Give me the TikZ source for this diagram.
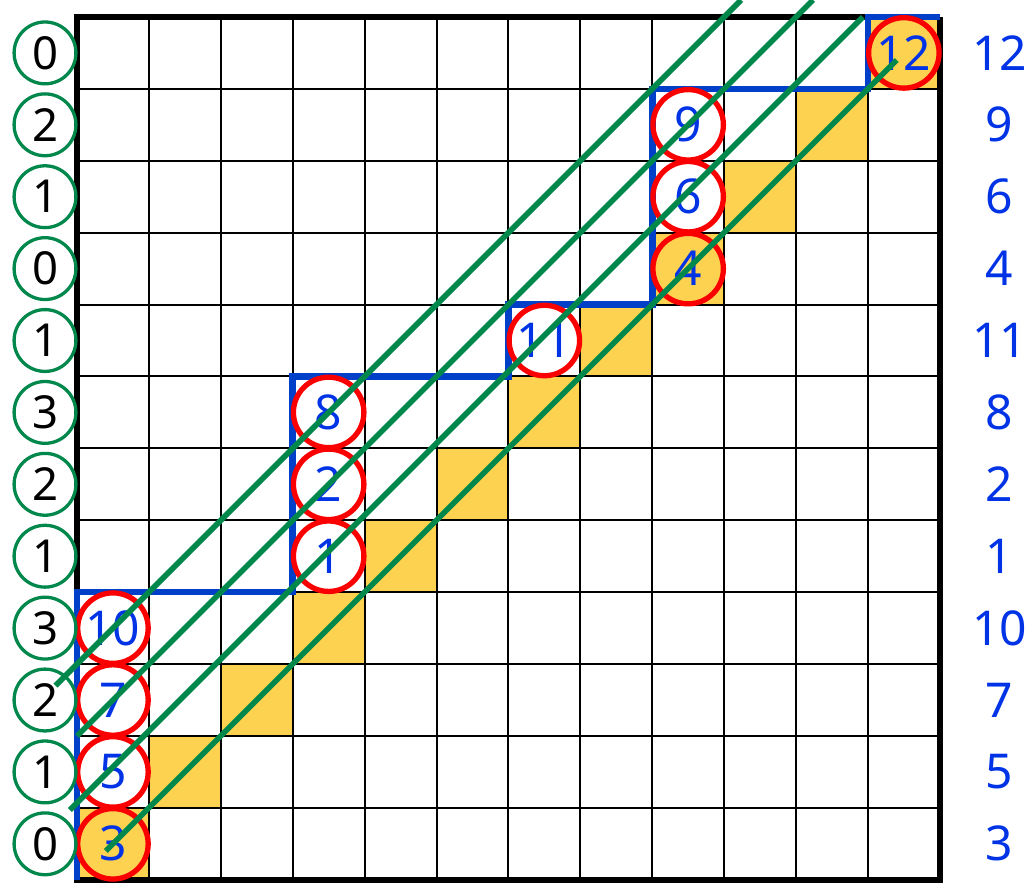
\documentclass[tikz,border=0pt]{standalone}
\usepackage{fontspec}
\setmainfont{Noto Sans}
\definecolor{cellyellow}{RGB}{253,210,80}
\definecolor{stairblue}{RGB}{0,64,200}
\definecolor{numblue}{RGB}{0,51,230}
\definecolor{diaggreen}{RGB}{0,135,75}
\definecolor{ringred}{RGB}{250,0,0}

\begin{document}
\begin{tikzpicture}[x=1cm,y=1cm,
  ring/.style={circle,draw=ringred,line width=2.1pt,minimum size=0.98cm,inner sep=0pt,text=numblue,font=\fontsize{19}{19}\selectfont},
  tag/.style={circle,draw=diaggreen,line width=1.3pt,minimum size=0.86cm,inner sep=0pt,font=\fontsize{18}{18}\selectfont},
  rowlab/.style={text=numblue,font=\fontsize{19}{19}\selectfont}]
  \useasboundingbox (-1.071,-0.07) rectangle (13.31,12.236);
  % diagonal cells
  \foreach \i in {0,...,11}
    \fill[cellyellow] (\i,\i) rectangle ++(1,1);
  \draw[line width=0.8pt] (0,0) grid (12,12);
  \draw[line width=2.4pt] (11,12) -- (0,12) -- (0,0) -- (12,0) -- (12,12);
  % staircase
  \draw[stairblue,line width=2.6pt] (0,0) |- (3,4) |- (6,7) |- (8,8) |- (11,11) |- (12,12);
  % rows: label / column / tag / fill
  \foreach \lab/\col/\tag/\bg [count=\r from 0] in {3/0/0/cellyellow, 5/0/1/none, 7/0/2/none, 10/0/3/none,
      1/3/1/none, 2/3/2/none, 8/3/3/none, 11/6/1/none, 4/8/0/cellyellow, 6/8/1/none, 9/8/2/none, 12/11/0/cellyellow}{
    \node[ring,fill=\bg] (r\lab) at (\col+0.5,\r+0.5) {\lab};
    \node[tag] (t\r) at (-0.445,\r+0.5) {\tag};
    \node[rowlab] (n\lab) at (12.83,\r+0.5) {\lab};
  }
  % diagonals
  \draw[diaggreen,line width=2.2pt] (0.4,0.4) -- (11.4,11.4);
  \draw[diaggreen,line width=2.2pt] (-0.1,0.97) -- (10.93,12);
  \draw[diaggreen,line width=2.2pt] (0,2) -- (10.236,12.236);
  \draw[diaggreen,line width=2.2pt] (-0.3,2.7) -- (9.236,12.236);
\end{tikzpicture}
\end{document}
